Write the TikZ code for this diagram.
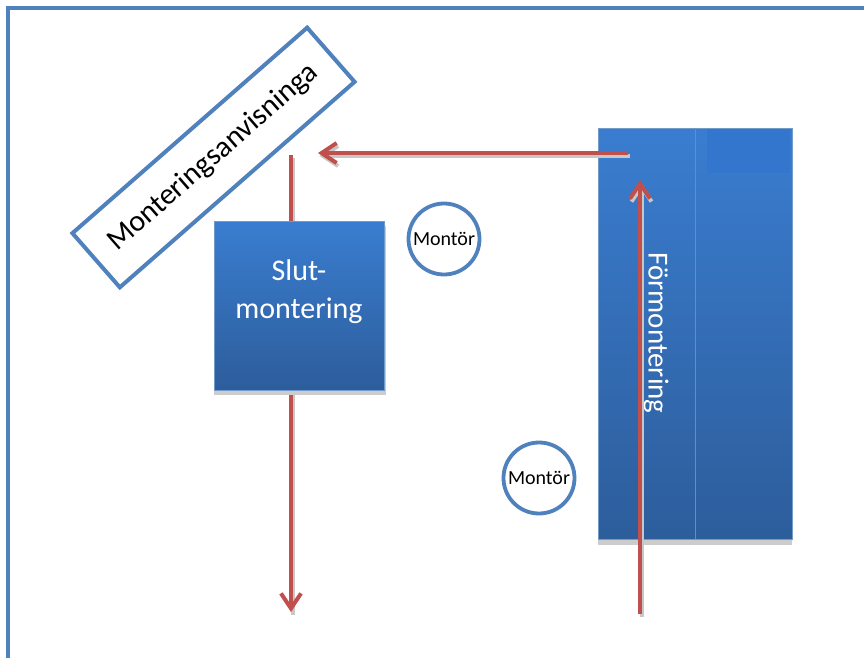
\documentclass[tikz,border=0pt]{standalone}
\usepackage{fontspec}
\setmainfont{Carlito}
\usetikzlibrary{arrows.meta}

\definecolor{frameblue}{RGB}{79,129,189}
\definecolor{boxtop}{RGB}{58,125,208}
\definecolor{boxbot}{RGB}{45,93,155}
\definecolor{patchblue}{RGB}{50,118,206}
\definecolor{flowred}{RGB}{192,80,77}

\tikzset{
  bluebox/.style={draw=frameblue!80, line width=0.8pt, top color=boxtop, bottom color=boxbot},
  flow/.style={draw=flowred, line width=4pt, -{Straight Barb[length=15pt,width=20pt,line width=4pt]}},
  flowshadow/.style={draw=black!22, line width=4pt, -{Straight Barb[length=15pt,width=20pt,line width=4pt]}},
  worker/.style={circle, draw=frameblue, line width=3.8pt, minimum size=71pt, inner sep=0pt, font=\fontsize{20}{22}\selectfont}
}

\begin{document}
\begin{tikzpicture}[x=1pt,y=-1pt]
  \useasboundingbox (0,0) rectangle (864,657);
  \fill[white] (0,0) rectangle (864,657);

  % outer frame
  \draw[frameblue, line width=4pt] (8,670) -- (8,8) -- (880,8);

  % instruction card
  \node[draw=frameblue, line width=4pt, fill=white, rotate=41.2,
        minimum width=312pt, minimum height=72pt,
        font=\fontsize{30}{32}\selectfont] (instr) at (213.5,157.5) {Monteringsanvisninga};

  % path through the final assembly
  \coordinate (slutin) at (291,155);
  \coordinate (slutout) at (291,612);
  \draw[flowshadow, -] ([shift={(1.5,3)}]slutin) -- ([shift={(1.5,3)}]slutout);
  \draw[flow] (slutin) -- (slutout);

  % final assembly
  \fill[black!20] (214,226) rectangle (386,395);
  \node[bluebox, minimum width=170pt, minimum height=169pt, anchor=north west] (slut) at (214,221) {};
  \node[text=white, align=center, font=\fontsize{30}{38}\selectfont] (slutlabel) at (299,292) {Slut-\\montering};

  % pre-assembly station
  \fill[black!20] (598,134) rectangle (792,545);
  \node[bluebox, minimum width=194pt, minimum height=411pt, anchor=north west] (formont) at (598,128) {};
  \draw[frameblue!90, line width=1pt] (695,128) -- (695,539);
  \fill[patchblue] (707,129) rectangle (790,173);
  \node[rotate=-90, text=white, font=\fontsize{29}{31}\selectfont] (formlabel) at (656,333) {Förmontering};

  % flows between stations
  \coordinate (formin) at (640,614);
  \coordinate (formtop) at (640,180);
  \coordinate (formout) at (628,153);
  \coordinate (instrin) at (318,153);
  \draw[flowshadow] ([shift={(1.5,3)}]formout) -- ([shift={(1.5,3)}]instrin);
  \draw[flow] (formout) -- (instrin);
  \draw[flowshadow] ([shift={(1.5,3)}]formin) -- ([shift={(1.5,3)}]formtop);
  \draw[flow] (formin) -- (formtop);

  % workers
  \node[worker] (montorA) at (444,239) {Montör};
  \node[worker] (montorB) at (539,478) {Montör};
\end{tikzpicture}
\end{document}
